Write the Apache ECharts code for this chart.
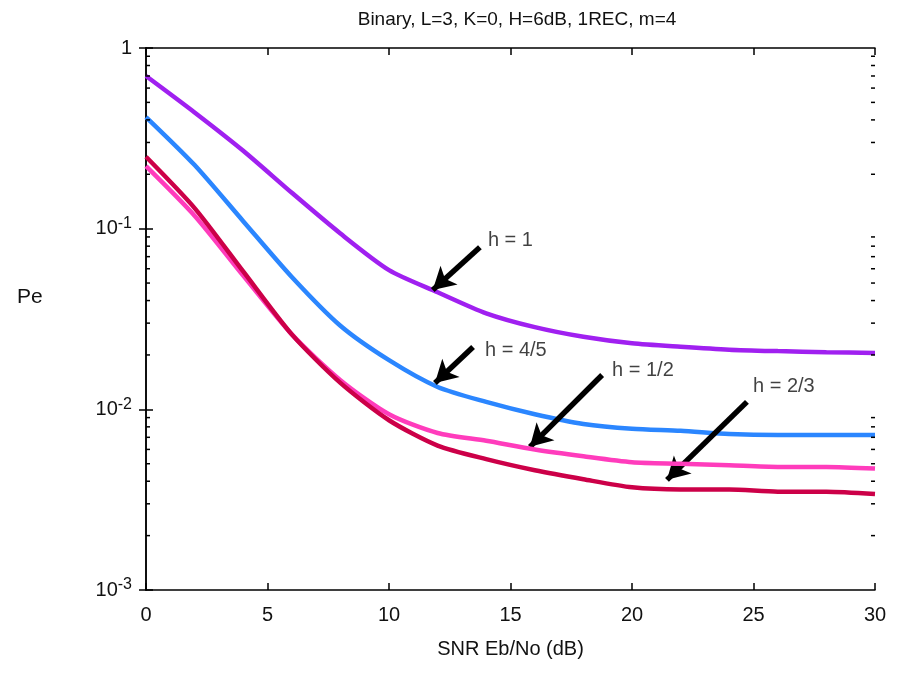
<!DOCTYPE html>
<html>
<head>
<meta charset="utf-8">
<script src="https://cdn.jsdelivr.net/npm/echarts@6/dist/echarts.min.js"></script>
<style>html,body{margin:0;padding:0;background:#fff}#c{width:902px;height:673px}</style>
</head>
<body>
<div id="c"></div>
<script>
// ---- data ----
const snr = [0, 2, 4, 6, 8, 10, 12, 14, 16, 18, 20, 22, 24, 26, 28, 30];
const peH1   = [0.70, 0.44, 0.27, 0.158, 0.094, 0.059, 0.0445, 0.034, 0.0285, 0.0252, 0.0232, 0.0222, 0.0214, 0.021, 0.0207, 0.0205];
const peH45  = [0.415, 0.225, 0.11, 0.054, 0.029, 0.0187, 0.0133, 0.011, 0.0094, 0.0083, 0.0078, 0.0076, 0.0073, 0.0072, 0.0072, 0.0072];
const peH12  = [0.222, 0.118, 0.055, 0.026, 0.0145, 0.0094, 0.0074, 0.0067, 0.006, 0.0055, 0.0051, 0.005, 0.0049, 0.0048, 0.0048, 0.0047];
const peH23  = [0.25, 0.13, 0.058, 0.026, 0.014, 0.0087, 0.0063, 0.0053, 0.0046, 0.0041, 0.0037, 0.0036, 0.0036, 0.0035, 0.0035, 0.0034];
const seriesNames = ['h = 1', 'h = 4/5', 'h = 1/2', 'h = 2/3'];
const xTicks = [0, 5, 10, 15, 20, 25, 30];
const yMinor = [2e-3,3e-3,4e-3,5e-3,6e-3,7e-3,8e-3,9e-3,2e-2,3e-2,4e-2,5e-2,6e-2,7e-2,8e-2,9e-2,0.2,0.3,0.4,0.5,0.6,0.7,0.8,0.9];
// annotation arrows: [tailX, tailY, tipX, tipY]
const arrows = [
  [13.74, 0.079, 11.8, 0.0458],
  [13.46, 0.0221, 11.89, 0.014],
  [18.77, 0.0155, 15.8, 0.0062],
  [24.73, 0.011, 21.44, 0.00407]
];
// annotation label anchors [x, y]
const labelPos = [[14.07, 0.0865], [13.95, 0.0213], [19.18, 0.0165], [24.98, 0.01346]];
const title = 'Binary, L=3, K=0, H=6dB, 1REC, m=4';
const yTitle = 'Pe';

const FONT = "'Liberation Sans Narrow','Liberation Sans',Arial,sans-serif";
const colors = ['#a020f0', '#2b86ff', '#ff3cbc', '#cc0048'];
const curves = [peH1, peH45, peH12, peH23];

const chart = echarts.init(document.getElementById('c'), null, {renderer: 'canvas'});

function yFmt(v) {
  const e = Math.round(Math.log10(v));
  if (e === 0) return '1';
  return '10{sup|' + e + '}';
}

const lineSeries = curves.map((c, i) => ({
  type: 'line', name: seriesNames[i], data: snr.map((x, j) => [x, c[j]]),
  showSymbol: false, smooth: 0.25,
  lineStyle: {color: colors[i], width: 4.5}, z: 3 + i
}));

const arrowLines = {
  type: 'line', data: [], silent: true, z: 10,
  markLine: {
    silent: true, animation: false,
    symbol: ['none', 'arrow'], symbolSize: [19, 22],
    lineStyle: {color: '#000', width: 5.5, type: 'solid'},
    label: {show: false},
    data: arrows.map(a => [{coord: [a[0], a[1]]}, {coord: [a[2], a[3]]}])
  }
};

const labelSeries = {
  type: 'scatter', symbolSize: 0, z: 11, silent: true,
  data: labelPos.map((p, i) => ({value: p, name: seriesNames[i]})),
  label: {show: true, position: 'right', distance: 0, formatter: p => p.name,
    color: '#111', fontSize: 20, fontFamily: FONT}
};

const minorTicks = {
  type: 'custom', silent: true, z: 12, clip: false,
  data: yMinor.map(v => [0, v]),
  renderItem: function (params, api) {
    const l = api.coord([0, api.value(1)]);
    const r = api.coord([30, api.value(1)]);
    return {type: 'group', children: [
      {type: 'line', shape: {x1: l[0], y1: l[1], x2: l[0] + 4, y2: l[1]}, style: {stroke: '#000', lineWidth: 1.5}},
      {type: 'line', shape: {x1: r[0], y1: r[1], x2: r[0] - 4, y2: r[1]}, style: {stroke: '#000', lineWidth: 1.5}}
    ]};
  }
};

const axisLine = {show: true, lineStyle: {color: '#000', width: 1.5}};
const tickStyle = {show: true, inside: true, length: 7, lineStyle: {color: '#000', width: 1.5}};

chart.setOption({
  animation: false,
  backgroundColor: '#fff',
  title: {text: title, left: 512, top: 5, textAlign: 'center',
    textStyle: {fontFamily: FONT, fontSize: 19, fontWeight: 'normal', color: '#111'}},
  graphic: [{type: 'text', left: 17, top: 287, style: {text: yTitle, fontFamily: FONT, fontSize: 21, fill: '#111'}}],
  grid: {left: 146, right: 27, top: 48, bottom: 83},
  xAxis: [{
    type: 'value', min: 0, max: 30, interval: 5, position: 'bottom',
    name: 'SNR Eb/No (dB)', nameLocation: 'middle', nameGap: 49,
    nameTextStyle: {fontFamily: FONT, fontSize: 20, color: '#111'},
    axisLine: axisLine, axisTick: tickStyle, splitLine: {show: false},
    axisLabel: {fontFamily: FONT, fontSize: 20, color: '#111', margin: 15}
  }, {
    type: 'value', min: 0, max: 30, interval: 5, position: 'top',
    axisLine: axisLine, axisTick: tickStyle, splitLine: {show: false},
    axisLabel: {show: false}
  }],
  yAxis: [{
    type: 'log', logBase: 10, min: 0.001, max: 1, position: 'left',
    axisLine: axisLine, axisTick: tickStyle, splitLine: {show: false},
    axisLabel: {formatter: yFmt, fontFamily: FONT, fontSize: 20, color: '#111', margin: 14,
      rich: {sup: {fontFamily: FONT, fontSize: 16, color: '#111', verticalAlign: 'top', padding: [0, 0, 10, 0]}}}
  }, {
    type: 'log', logBase: 10, min: 0.001, max: 1, position: 'right',
    axisLine: axisLine, axisTick: tickStyle, splitLine: {show: false},
    axisLabel: {show: false}
  }],
  series: lineSeries.concat([arrowLines, labelSeries, minorTicks])
});
</script>
</body>
</html>
